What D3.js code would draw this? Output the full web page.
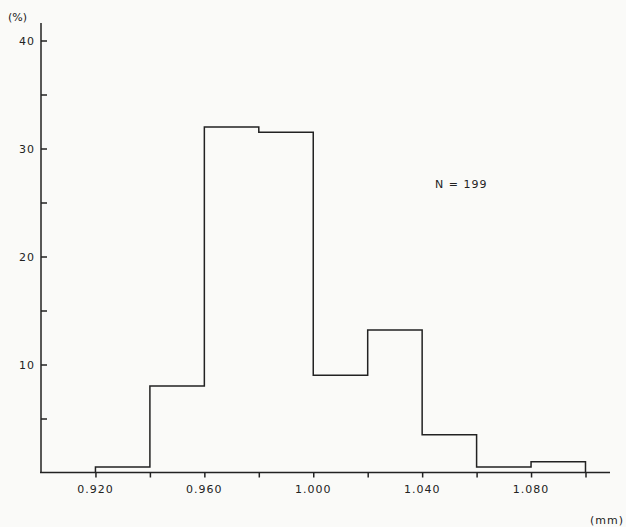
<!DOCTYPE html>
<meta charset="utf-8">
<script src="https://d3js.org/d3.v7.min.js"></script>
<style>
  body { margin: 0; background: #fafaf8; }
  text { font-family: "DejaVu Sans", sans-serif; fill: #222; }
</style>
<div id="my_dataviz"></div>
<script>

// histogram bins (mm) and percent of N = 199
var binStarts = [0.920, 0.940, 0.960, 0.980, 1.000, 1.020, 1.040, 1.060, 1.080]
var binWidth = 0.020
var percents = [0.5, 8.0, 32.0, 31.5, 9.0, 13.2, 3.5, 0.5, 1.0]
var xTickValues = [0.920, 0.940, 0.960, 0.980, 1.000, 1.020, 1.040, 1.060, 1.080, 1.100]
var xTickLabels = ["0.920", "", "0.960", "", "1.000", "", "1.040", "", "1.080", ""]
var yTickValues = [5, 10, 15, 20, 25, 30, 35, 40]
var yTickLabels = ["", "10", "", "20", "", "30", "", "40"]

var W = 626, H = 527
var svg = d3.select("#my_dataviz")
  .append("svg")
    .attr("width", W)
    .attr("height", H)

// scales
var x = d3.scaleLinear().domain([0.900, 1.109]).range([41, 610])
var y = d3.scaleLinear().domain([0, 40]).range([472.5, 40.5])

var ink = "#222"

// y axis
var yAxis = d3.axisRight(y)
  .tickValues(yTickValues)
  .tickSize(6)
  .tickFormat(function(d, i) { return "" })
var gy = svg.append("g")
  .attr("transform", "translate(41,0)")
  .call(yAxis)
gy.select(".domain").remove()
gy.selectAll("line").attr("stroke", ink).attr("stroke-width", 1.5)
gy.append("line")
  .attr("x1", 0).attr("x2", 0)
  .attr("y1", 23).attr("y2", y(0))
  .attr("stroke", ink).attr("stroke-width", 1.5)

svg.selectAll(".ylab")
  .data(yTickValues)
  .enter()
  .append("text")
    .attr("x", 35)
    .attr("y", function(d) { return y(d) + 4 })
    .attr("text-anchor", "end")
    .style("font-size", "11px")
    .style("letter-spacing", "1px")
    .text(function(d, i) { return yTickLabels[i] })

// x axis
var xAxis = d3.axisBottom(x)
  .tickValues(xTickValues)
  .tickSize(5)
  .tickFormat(function(d, i) { return "" })
var gx = svg.append("g")
  .attr("transform", "translate(0," + y(0) + ")")
  .call(xAxis)
gx.select(".domain").remove()
gx.selectAll("line").attr("stroke", ink).attr("stroke-width", 1.5)
gx.append("line")
  .attr("x1", 40).attr("x2", 610)
  .attr("y1", 0).attr("y2", 0)
  .attr("stroke", ink).attr("stroke-width", 1.5)

svg.selectAll(".xlab")
  .data(xTickValues)
  .enter()
  .append("text")
    .attr("x", function(d) { return x(d) })
    .attr("y", 493)
    .attr("text-anchor", "middle")
    .style("font-size", "11px")
    .style("letter-spacing", "1px")
    .text(function(d, i) { return xTickLabels[i] })

// histogram outline as a step path
var pts = []
binStarts.forEach(function(b, i) {
  pts.push([x(b), y(i === 0 ? 0 : percents[i - 1])])
  pts.push([x(b), y(percents[i])])
  pts.push([x(b + binWidth), y(percents[i])])
})
pts.push([x(binStarts[binStarts.length - 1] + binWidth), y(0)])

svg.append("path")
  .attr("d", d3.line()(pts))
  .attr("fill", "none")
  .attr("stroke", ink)
  .attr("stroke-width", 1.5)

// labels
svg.append("text")
  .attr("x", 8).attr("y", 21)
  .style("font-size", "11px")
  .text("(%)")

svg.append("text")
  .attr("x", 435).attr("y", 188)
  .style("font-size", "11px")
  .style("letter-spacing", "1px")
  .text("N = 199")

svg.append("text")
  .attr("x", 590).attr("y", 524)
  .style("font-size", "11px")
  .style("letter-spacing", "1px")
  .text("(mm)")

</script>
